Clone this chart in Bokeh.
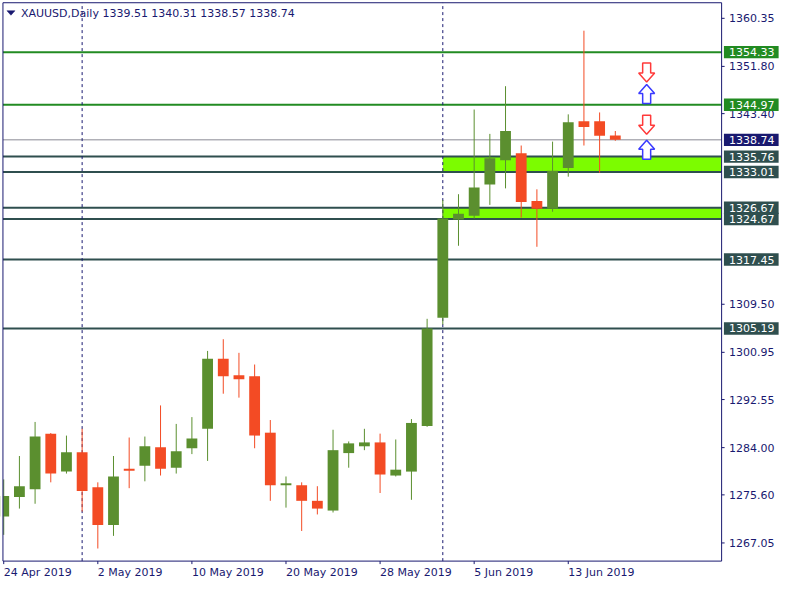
import datetime as dt
from bokeh.plotting import figure
from bokeh.models import Range1d
from bokeh.core.properties import value
from bokeh.embed import file_html
from bokeh.resources import INLINE

# ---------------- data ----------------
symbol = "XAUUSD"
timeframe = "Daily"
dates = ["2019-04-24", "2019-04-25", "2019-04-26", "2019-04-29", "2019-04-30",
         "2019-05-01", "2019-05-02", "2019-05-03", "2019-05-06", "2019-05-07",
         "2019-05-08", "2019-05-09", "2019-05-10", "2019-05-13", "2019-05-14",
         "2019-05-15", "2019-05-16", "2019-05-17", "2019-05-20", "2019-05-21",
         "2019-05-22", "2019-05-23", "2019-05-24", "2019-05-27", "2019-05-28",
         "2019-05-29", "2019-05-30", "2019-05-31", "2019-06-03", "2019-06-04",
         "2019-06-05", "2019-06-06", "2019-06-07", "2019-06-10", "2019-06-11",
         "2019-06-12", "2019-06-13", "2019-06-14", "2019-06-17", "2019-06-18"]
opens = [1271.77, 1275.24, 1276.62, 1286.49, 1279.74, 1283.20, 1276.97, 1270.22, 1280.26, 1280.78,
         1284.06, 1280.43, 1283.89, 1287.35, 1299.82, 1296.87, 1296.70, 1286.66, 1277.31, 1277.31,
         1274.54, 1272.81, 1283.03, 1284.24, 1284.93, 1279.04, 1279.74, 1287.87, 1307.09, 1324.57,
         1325.26, 1330.80, 1335.13, 1336.34, 1327.86, 1326.47, 1333.74, 1342.05, 1342.05, 1339.51]
highs = [1278.35, 1282.51, 1288.57, 1286.60, 1286.14, 1287.35, 1277.83, 1282.51, 1285.80, 1285.97,
         1291.51, 1288.22, 1289.43, 1301.20, 1303.28, 1300.86, 1298.78, 1288.91, 1278.87, 1277.83,
         1277.14, 1287.18, 1285.10, 1287.35, 1286.49, 1285.45, 1289.08, 1306.91, 1328.03, 1329.07,
         1344.13, 1339.80, 1348.28, 1337.73, 1329.94, 1338.42, 1343.27, 1358.15, 1343.61, 1340.31]
lows = [1268.49, 1273.16, 1274.02, 1277.83, 1279.39, 1272.64, 1266.06, 1268.31, 1276.79, 1278.01,
        1279.04, 1279.39, 1282.85, 1281.64, 1293.59, 1292.89, 1283.89, 1274.54, 1273.33, 1269.18,
        1272.12, 1272.47, 1280.43, 1283.55, 1275.93, 1278.87, 1274.72, 1287.70, 1305.88, 1319.90,
        1324.74, 1327.17, 1330.11, 1324.92, 1319.72, 1325.95, 1332.19, 1337.73, 1332.88, 1338.57]
closes = [1275.41, 1277.14, 1285.97, 1279.39, 1283.20, 1276.28, 1270.22, 1278.87, 1279.91, 1284.24,
          1280.26, 1283.37, 1285.62, 1299.82, 1296.70, 1296.18, 1286.14, 1277.31, 1277.66, 1274.54,
          1273.16, 1283.55, 1284.76, 1284.93, 1279.22, 1280.08, 1288.39, 1305.18, 1324.74, 1325.61,
          1330.28, 1335.48, 1340.32, 1327.69, 1326.47, 1333.23, 1341.88, 1341.01, 1339.46, 1338.74]

price_ticks = [1360.35, 1351.80, 1343.40, 1309.50, 1300.95, 1292.55, 1284.00, 1275.60, 1267.05]
green_levels = [1354.33, 1344.97]
slate_levels = [1335.76, 1333.01, 1326.67, 1324.67, 1317.45, 1305.19]
zone_start = [28, 28]
zone_tops = [1335.76, 1326.67]
zone_bottoms = [1333.01, 1324.67]
down_arrow_x = [41, 41]
down_arrow_top = [1352.4, 1343.1]
up_arrow_x = [41, 41]
up_arrow_base = [1345.2, 1335.3]
date_label_step = 6

# ---------------- styling / layout ----------------
FONT = "DejaVu Sans"
FS = "11px"
NAVY = "#191970"
BULL = "#5B8F2F"
BEAR = "#F34B24"
GREEN_LINE = "#228B22"
SLATE = "#2F4F4F"
ZONE = "#7CFC00"
GRAY = "#8A8A94"

W, H = 784, 584
# whole canvas in data units (bar index / price)
XR0, XR1 = -0.206, 49.79
YR0, YR1 = 1259.66, 1363.52
# chart area (inside the axes)
X_L, X_R = -0.05, 45.78
Y_B, Y_T = 1263.82, 1363.12
PXB = W / (XR1 - XR0)
PXP = H / (YR1 - YR0)


def dx(px):
    return px / PXB


def dy(px):
    return px / PXP


p = figure(width=W, height=H, x_range=Range1d(XR0, XR1), y_range=Range1d(YR0, YR1),
           output_backend="svg", toolbar_location=None,
           x_axis_location=None, y_axis_location=None, min_border=0)
p.background_fill_color = "white"
p.border_fill_color = "white"
p.outline_line_color = None
p.grid.visible = False

idx = list(range(len(dates)))
dts = [dt.date.fromisoformat(d) for d in dates]

# zones
p.quad(left=zone_start, right=[X_R] * len(zone_start), top=zone_tops, bottom=zone_bottoms,
       fill_color=ZONE, line_color=None)

# horizontal levels
n_g, n_s = len(green_levels), len(slate_levels)
p.segment(x0=[X_L] * n_g, x1=[X_R] * n_g, y0=green_levels, y1=green_levels,
          line_color=GREEN_LINE, line_width=2)
p.segment(x0=[X_L] * n_s, x1=[X_R] * n_s, y0=slate_levels, y1=slate_levels,
          line_color=SLATE, line_width=2)
p.segment(x0=[X_L], x1=[X_R], y0=[closes[-1]], y1=[closes[-1]], line_color=GRAY, line_width=1)

# period separators (first bar of a new month)
seps = [i for i in idx[1:] if dts[i].month != dts[i - 1].month]
p.segment(x0=seps, x1=seps, y0=[Y_B] * len(seps), y1=[Y_T] * len(seps),
          line_color=NAVY, line_width=1, line_dash="3 3")

# candles
colors = [BULL if c >= o else BEAR for o, c in zip(opens, closes)]
p.segment(x0=idx, y0=lows, x1=idx, y1=highs, line_color=colors, line_width=1)
p.vbar(x=idx, width=0.69, top=[max(o, c) for o, c in zip(opens, closes)],
       bottom=[min(o, c) for o, c in zip(opens, closes)], fill_color=colors, line_color=None)

# mask left of the chart area
p.quad(left=[XR0], right=[X_L], bottom=[YR0], top=[YR1], fill_color="white", line_color=None)

# arrows (hollow)
shape = [(-4, 0), (4, 0), (4, 10), (8, 10), (0, 19), (-8, 10), (-4, 10)]
dxs = [[ax + dx(sx) for sx, sy in shape] for ax in down_arrow_x]
dys = [[ay - dy(sy) for sx, sy in shape] for ay in down_arrow_top]
uxs = [[ax + dx(sx) for sx, sy in shape] for ax in up_arrow_x]
uys = [[ay + dy(sy) for sx, sy in shape] for ay in up_arrow_base]
p.patches(dxs, dys, fill_color="white", line_color="#FF3A3A", line_width=1.5)
p.patches(uxs, uys, fill_color="white", line_color="#3A3AFF", line_width=1.5)

# frame / axis lines
p.multi_line(xs=[[X_L, X_L, X_R, X_R, X_L]], ys=[[Y_B, Y_T, Y_T, Y_B, Y_B]],
             line_color=NAVY, line_width=1)

# price axis ticks + labels
nt = len(price_ticks)
p.segment(x0=[X_R] * nt, x1=[X_R + dx(3)] * nt, y0=price_ticks, y1=price_ticks,
          line_color=NAVY, line_width=1)
p.text(x=[X_R + dx(7.5)] * nt, y=price_ticks, text=[f"{t:.2f}" for t in price_ticks],
       text_font=value(FONT), text_font_size=value(FS), text_color=NAVY,
       text_align="left", text_baseline="middle")

# date axis ticks + labels
label_idx = idx[::date_label_step]
nl = len(label_idx)
p.segment(x0=label_idx, x1=label_idx, y0=[Y_B] * nl, y1=[Y_B - dy(3)] * nl,
          line_color=NAVY, line_width=1)
p.text(x=label_idx, y=[Y_B - dy(11)] * nl,
       text=[f"{dts[i].day} {dts[i].strftime('%b %Y')}" for i in label_idx],
       text_font=value(FONT), text_font_size=value(FS), text_color=NAVY,
       text_align="left", text_baseline="middle")

# right-side price boxes
box_levels = green_levels + [closes[-1]] + slate_levels
box_colors = [GREEN_LINE] * n_g + [NAVY] + [SLATE] * n_s
nb = len(box_levels)
p.quad(left=[X_R + dx(2.3)] * nb, right=[X_R + dx(57)] * nb,
       bottom=[lv - dy(6.2) for lv in box_levels], top=[lv + dy(6.2) for lv in box_levels],
       fill_color=box_colors, line_color=None)
p.text(x=[X_R + dx(7.5)] * nb, y=box_levels, text=[f"{lv:.2f}" for lv in box_levels],
       text_font=value(FONT), text_font_size=value(FS), text_color="white",
       text_align="left", text_baseline="middle")

# header: small flat triangle + symbol / OHLC text
tri = [(4, 8), (12, 8), (8, 12.5)]
p.patch(x=[X_L + dx(a) for a, b in tri], y=[Y_T - dy(b) for a, b in tri],
        fill_color=NAVY, line_color=NAVY, line_width=0.5)
header = f"{symbol},{timeframe}  {opens[-1]:.2f} {highs[-1]:.2f} {lows[-1]:.2f} {closes[-1]:.2f}"
p.text(x=[X_L + dx(18)], y=[Y_T - dy(10.5)], text=[header], text_font=value(FONT),
       text_font_size=value(FS), text_color=NAVY, text_align="left", text_baseline="middle")

open("out.html", "w").write(file_html(p, INLINE))
